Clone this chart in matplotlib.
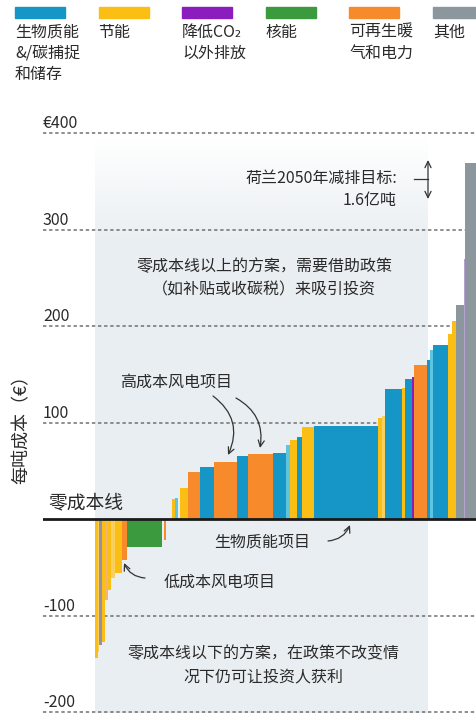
import numpy as np
import matplotlib.pyplot as plt
from matplotlib.patches import Rectangle

plt.rcParams['font.family'] = ['Noto Sans CJK SC', 'DejaVu Sans']

W, H = 477, 713

legend_labels = ['生物质能\n&/碳捕捉\n和储存', '节能', '降低CO₂\n以外排放', '核能', '可再生暖\n气和电力', '其他']
legend_keys = ['bio', 'save', 'nonco2', 'nuclear', 'renew', 'other']

# abatement options left to right: potential (Mt CO2), cost (euro per tonne), sector
widths = [1.25, 0.8, 1.3, 1.45, 1.25, 1.65, 1.9, 3.2, 2.4, 17.15, 0.6, 1.3, 2.75,
          1.25, 1.65, 1.1, 3.7, 5.65, 6.65, 11.25, 5.45, 11.7, 6.6, 1.8, 3.5, 2.4, 5.75,
          30.6, 1.85, 1.7, 8.0, 1.35, 3.25, 1.2, 6.2, 1.25, 1.8, 6.95, 1.8, 2.05,
          3.75, 0.6, 6.0]
costs = [-144, -138, -131, -127, -84, -74, -61, -56, -42, -29, 0, -22, 0,
         21, 22, 0, 32, 49, 54, 59, 65, 67, 69, 77, 82, 85, 95,
         96.5, 105, 107, 135, 136, 145, 147, 160, 165, 175, 180, 192, 205,
         222, 270, 369]
groups = ['save', 'save_l', 'other_p', 'save', 'renew_l', 'save', 'save_l', 'save', 'renew', 'nuclear', 'gap', 'renew', 'gap',
          'save', 'bio_l', 'gap', 'save', 'renew', 'bio', 'renew', 'bio', 'renew', 'bio', 'bio_l', 'save', 'bio', 'save',
          'bio', 'save', 'save_l', 'bio', 'save', 'bio', 'nonco2', 'renew', 'bio', 'bio_l', 'bio', 'save', 'save',
          'other', 'nonco2_l', 'other']

grid_values = [400, 300, 200, 100, -100, -200]
grid_labels = ['€400', '300', '200', '100', '-100', '-200']
target = 160  # Mt, Dutch 2050 reduction target

colors = {'bio': '#1596c6', 'bio_l': '#5ec4e0', 'save': '#fbbe14', 'save_l': '#f8d060',
          'nonco2': '#8b1dbf', 'nonco2_l': '#b9a0d2', 'nuclear': '#3c9a3e',
          'renew': '#f78b2c', 'renew_l': '#f5b370', 'other': '#8b969d', 'other_p': '#9590a8',
          'gap': 'none'}
txt = '#2a2a2a'

fig = plt.figure(figsize=(W / 100, H / 100), dpi=100)
ax = fig.add_axes([43 / W, 0, 1 - 43 / W, (H - 110) / H])
ax.set_xlim(-25, 183.65)
ax.set_ylim(-201, 424)
ax.axis('off')

# light panel behind the curve, fading out at the top
panel = np.array([233, 238, 242]) / 255
yy = np.linspace(1, 0, 300)
alpha = np.clip((395 - (-201 + yy * 596)) / 110, 0, 1)
img = np.ones((300, 1, 4))
img[:, 0, :3] = panel
img[:, 0, 3] = alpha
ax.imshow(img, extent=[0, target, -201, 395], aspect='auto', zorder=0)

for v in grid_values:
    ax.axhline(v, color='#707070', lw=1.1, ls=(0, (2.2, 1.8)), zorder=1)
for v, lab in zip(grid_values, grid_labels):
    ax.text(0, v + 5, lab, transform=ax.get_yaxis_transform(), ha='left', va='baseline',
            fontsize=11.5, color=txt)

lefts = np.concatenate([[0], np.cumsum(widths)[:-1]])
ax.bar(lefts, costs, width=widths, align='edge', color=[colors[g] for g in groups],
       linewidth=0, zorder=2)
ax.axhline(0, color='#1a1a1a', lw=2, zorder=3)

# legend
for i, (lab, key) in enumerate(zip(legend_labels, legend_keys)):
    x0 = 15 + i * 83.6
    fig.patches.append(Rectangle((x0 / W, 1 - 18 / H), 50 / W, 11 / H,
                                 transform=fig.transFigure, color=colors[key]))
    fig.text(x0 / W, 1 - 24 / H, lab, ha='left', va='top', fontsize=11.5,
             linespacing=1.3, color=txt)


def fp(x, y):
    return x / W, 1 - y / H


fig.text(*fp(22, 425), '每吨成本（€）', rotation=90, ha='center', va='center', fontsize=13, color=txt)
fig.text(*fp(48, 503), '零成本线', ha='left', va='center', fontsize=13.5, color=txt)
fig.text(*fp(397, 178), '荷兰2050年减排目标:', ha='right', va='center', fontsize=11.5, color=txt)
fig.text(*fp(397, 200), '1.6亿吨', ha='right', va='center', fontsize=11.5, color=txt)
fig.text(*fp(264, 278), '零成本线以上的方案，需要借助政策\n（如补贴或收碳税）来吸引投资', ha='center',
         va='center', fontsize=11.5, linespacing=1.5, color=txt)
fig.text(*fp(176, 382), '高成本风电项目', ha='center', va='center', fontsize=11.5, color=txt)
fig.text(*fp(262, 542), '生物质能项目', ha='center', va='center', fontsize=11.5, color=txt)
fig.text(*fp(220, 582), '低成本风电项目', ha='center', va='center', fontsize=11.5, color=txt)
fig.text(*fp(263, 665), '零成本线以下的方案，在政策不改变情\n况下仍可让投资人获利', ha='center',
         va='center', fontsize=11.5, linespacing=1.5, color=txt)


def arrow(start, end, rad, style='->,head_length=0.45,head_width=0.22'):
    fig.add_artist(plt.matplotlib.patches.FancyArrowPatch(
        (start[0], H - start[1]), (end[0], H - end[1]), transform=None,
        arrowstyle=style, connectionstyle=f'arc3,rad={rad}', color='#333333', lw=0.9,
        mutation_scale=10, shrinkA=0, shrinkB=0))


arrow((213, 396), (228, 455), -0.4)
arrow((236, 398), (260, 448), -0.35)
arrow((328, 541), (350, 525), 0.3)
arrow((145, 578), (124, 563), -0.3)
arrow((428, 160), (428, 199), 0, style='<->,head_length=0.45,head_width=0.22')
fig.add_artist(plt.Line2D([414 / W, 428 / W], [1 - 179 / H, 1 - 179 / H], color='#333333', lw=0.9))

fig.savefig('out.png', dpi=100)
